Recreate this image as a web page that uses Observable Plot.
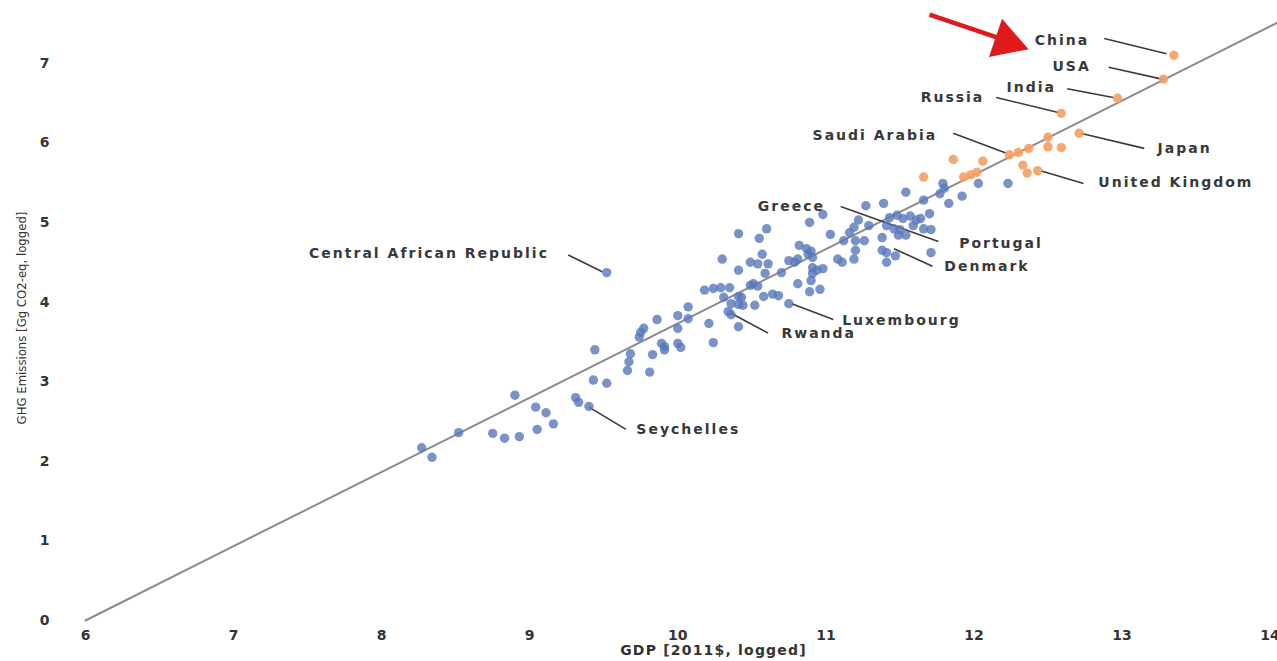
<!DOCTYPE html>
<html>
<head>
<meta charset="utf-8">
<script src="https://cdn.jsdelivr.net/npm/d3@7"></script>
<script src="https://cdn.jsdelivr.net/npm/@observablehq/plot@0.6"></script>
<style>
  html, body { margin: 0; padding: 0; background: #fff; }
  #chart svg { display: block; }
</style>
</head>
<body>
<div id="chart"></div>
<script>
// GDP (log) and GHG emissions (log) per country
const bluePoints = [
  [8.27,2.17],[8.34,2.05],[8.52,2.36],[8.75,2.35],[8.83,2.29],[8.90,2.83],[8.93,2.31],[9.05,2.40],
  [9.04,2.68],[9.11,2.61],[9.16,2.47],[9.31,2.80],[9.33,2.74],[9.40,2.69],[9.43,3.02],[9.52,2.98],
  [9.44,3.40],[9.52,4.37],[9.67,3.25],[9.68,3.35],[9.66,3.14],[9.81,3.12],[9.77,3.67],[9.75,3.62],
  [9.74,3.56],[9.83,3.34],[9.86,3.78],[9.89,3.48],[9.91,3.44],[9.91,3.40],[10.00,3.48],[10.02,3.43],
  [10.00,3.83],[10.07,3.79],[10.07,3.94],[10.21,3.73],[10.24,3.49],[10.34,3.88],[10.36,3.84],[10.41,3.69],
  [10.36,3.98],[10.41,3.97],[10.44,3.96],[10.52,3.96],[10.75,3.98],[10.31,4.06],[10.41,4.07],[10.43,4.06],
  [10.58,4.07],[10.64,4.10],[10.68,4.08],[10.49,4.21],[10.51,4.23],[10.54,4.20],[10.18,4.15],[10.24,4.17],
  [10.29,4.18],[10.35,4.18],[10.89,4.13],[10.96,4.16],[10.90,4.27],[10.81,4.23],[10.41,4.40],[10.59,4.36],
  [10.70,4.37],[10.91,4.43],[10.94,4.40],[10.91,4.36],[10.30,4.54],[10.49,4.50],[10.54,4.48],[10.61,4.48],
  [10.57,4.60],[10.75,4.52],[10.79,4.50],[10.81,4.54],[10.41,4.86],[10.55,4.80],[10.60,4.92],[10.82,4.71],
  [10.87,4.67],[10.90,4.64],[10.88,4.60],[10.91,4.56],[10.98,5.10],[10.89,5.00],[11.03,4.85],[11.08,4.54],
  [11.11,4.50],[11.19,4.54],[11.16,4.87],[11.19,4.94],[11.22,5.03],[11.29,4.96],[11.12,4.77],[11.20,4.77],
  [11.26,4.77],[11.38,4.81],[11.43,5.06],[11.48,5.09],[11.52,5.05],[11.57,5.08],[11.61,5.03],[11.64,5.05],
  [11.70,5.11],[11.41,4.96],[11.46,4.92],[11.50,4.91],[11.49,4.84],[11.54,4.84],[11.59,4.96],[11.66,4.92],
  [11.71,4.91],[11.38,4.65],[11.41,4.62],[11.71,4.62],[11.47,4.58],[11.41,4.50],[11.20,4.65],[10.98,4.42],
  [11.79,5.49],[12.03,5.49],[12.23,5.49],[11.54,5.38],[11.66,5.28],[11.77,5.36],[11.80,5.43],[11.83,5.24],
  [11.92,5.33],[11.27,5.21],[11.39,5.24],[10.00,3.67]
];

const orangePoints = [
  [13.35,7.10],[13.28,6.80],[12.97,6.56],[12.59,6.37],[12.71,6.12],[12.50,6.07],[12.50,5.95],[12.59,5.94],
  [12.37,5.93],[12.24,5.85],[12.30,5.88],[12.06,5.77],[11.86,5.79],[12.33,5.72],[12.36,5.62],[12.43,5.65],
  [12.02,5.63],[11.98,5.60],[11.66,5.57],[11.93,5.57]
];

const fitLine = [[6, 0], [14.05, 7.51]];

const labelNames = ["China","USA","India","Russia","Saudi Arabia","Japan","United Kingdom","Greece",
  "Portugal","Denmark","Luxembourg","Rwanda","Central African Republic","Seychelles"];
const labelX = [12.41,12.53,12.22,11.64,10.91,13.24,12.84,10.54,11.90,11.80,11.11,10.70,7.51,9.72];
const labelY = [7.29,6.96,6.70,6.57,6.09,5.93,5.50,5.20,4.74,4.45,3.77,3.61,4.61,2.40];

// leader lines: [x1, y1, x2, y2]
const leaders = [
  [12.88,7.31,13.30,7.12],[12.91,6.95,13.27,6.80],[12.63,6.68,12.94,6.57],[12.15,6.57,12.57,6.38],
  [11.86,6.12,12.22,5.87],[12.72,6.12,13.15,5.93],[12.45,5.65,12.74,5.49],[11.10,5.20,11.76,4.76],
  [11.46,4.67,11.72,4.45],[10.77,3.98,11.05,3.78],[10.36,3.86,10.61,3.61],[9.26,4.59,9.49,4.38],
  [9.40,2.68,9.65,2.40]
];

// red pointer: shaft [x1, y1, x2, y2] and head [x, y]
const arrowShaft = [[11.70,7.61,12.21,7.29]];
const arrowHead = [[12.22,7.27]];

const xTicks = [6,7,8,9,10,11,12,13,14];
const yTicks = [0,1,2,3,4,5,6,7];

const labels = labelNames.map((name, i) => ({name, x: labelX[i], y: labelY[i]}));
const wide = "DejaVu Sans, Verdana, sans-serif";

const chart = Plot.plot({
  width: 1277,
  height: 661,
  marginLeft: 85,
  marginRight: 0,
  marginTop: 3,
  marginBottom: 41,
  style: {background: "#fff", overflow: "visible"},
  x: {domain: [6, 14.05]},
  y: {domain: [0, 7.75]},
  marks: [
    Plot.line(fitLine, {x: d => d[0], y: d => d[1], stroke: "#8c8c8c", strokeWidth: 2}),
    Plot.link(leaders, {x1: d => d[0], y1: d => d[1], x2: d => d[2], y2: d => d[3], stroke: "#3a3a3a", strokeWidth: 1.6}),
    Plot.dot(bluePoints, {x: d => d[0], y: d => d[1], r: 4.7, fill: "#5878ba", fillOpacity: 0.8, stroke: "none"}),
    Plot.dot(orangePoints, {x: d => d[0], y: d => d[1], r: 4.7, fill: "#f4a062", fillOpacity: 0.9, stroke: "none"}),
    Plot.text(labels, {x: "x", y: "y", text: "name", textAnchor: "start", fontSize: 14, fontWeight: "bold",
      fill: "#383838", fontFamily: wide}),
    Plot.link(arrowShaft, {x1: d => d[0], y1: d => d[1], x2: d => d[2], y2: d => d[3], stroke: "#e0191b", strokeWidth: 4.5}),
    Plot.dot(arrowHead, {x: d => d[0], y: d => d[1], symbol: "triangle", r: 15, rotate: 109, fill: "#e0191b", stroke: "none"}),
    Plot.axisX(xTicks, {tickSize: 0, tickPadding: 10, fontSize: 14, fontWeight: "bold", fill: "#333", label: null,
      tickFormat: d3.format("d"), fontFamily: wide}),
    Plot.axisY(yTicks, {tickSize: 0, tickPadding: 36, fontSize: 14, fontWeight: "bold", fill: "#333", label: null,
      tickFormat: d3.format("d"), fontFamily: wide}),
    Plot.text(["GDP [2011$, logged]"], {frameAnchor: "bottom", textAnchor: "middle", lineAnchor: "middle",
      dx: 32, dy: 30, fontSize: 14, fontWeight: "bold", fill: "#333", fontFamily: wide}),
    Plot.text(["GHG Emissions [Gg CO2-eq, logged]"], {frameAnchor: "left", textAnchor: "middle", lineAnchor: "middle",
      rotate: -90, dx: -64, dy: 6, fontSize: 13, fill: "#333",
      fontFamily: "Liberation Sans Narrow, DejaVu Sans Condensed, sans-serif"})
  ]
});

// wide lettering like the original's label font
const labelSet = new Set(labelNames);
d3.select(chart).selectAll("text")
  .filter(function() { return labelSet.has(this.textContent); })
  .style("letter-spacing", "2px");
d3.select(chart).selectAll("text")
  .filter(function() { return this.textContent === "GDP [2011$, logged]"; })
  .style("letter-spacing", "1.2px");

document.getElementById("chart").appendChild(chart);
</script>
</body>
</html>
